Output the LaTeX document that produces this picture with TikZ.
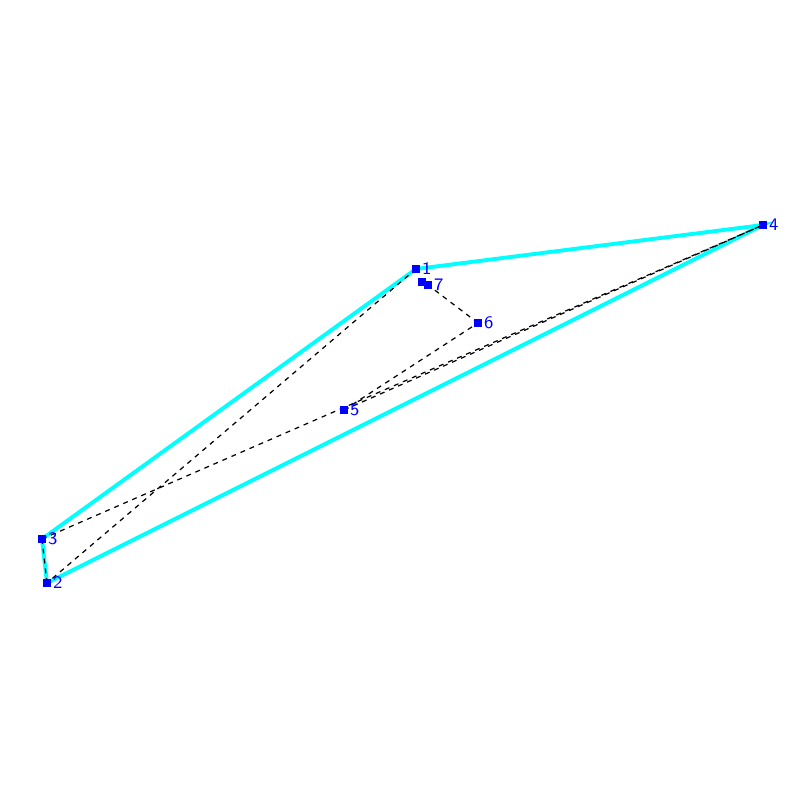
\documentclass[tikz,border=0pt]{standalone}
\usepackage{xcolor}
\usepackage{tikz}

\definecolor{hullcyan}{RGB}{0,255,255}
\definecolor{ptblue}{RGB}{0,0,255}

\tikzset{
  pt/.style={fill=ptblue, inner sep=0pt, minimum size=0.08cm, draw=none},
  ptlabel/.style={text=ptblue, font=\sffamily\fontsize{5}{6}\selectfont, anchor=west, inner sep=0.2pt},
  hull/.style={draw=hullcyan, line width=1.1pt},
  inner/.style={draw=black, line width=0.35pt, dash pattern=on 1.4pt off 1.4pt}
}

\begin{document}
\begin{tikzpicture}
    \useasboundingbox (0,0) rectangle (8,8);
    % Points
    \coordinate (p1) at (4.16,5.31);
    \coordinate (p2) at (0.47,2.17);
    \coordinate (p3) at (0.42,2.61);
    \coordinate (p4) at (7.63,5.75);
    \coordinate (p5) at (3.44,3.90);
    \coordinate (p6) at (4.78,4.77);
    \coordinate (p7) at (4.28,5.15);
    \coordinate (p8) at (4.22,5.18);

    % Hull (cyan)
    \draw[hull] (p1) -- (p4) -- (p2) -- (p3) -- cycle;

    % Dashed edges
    \draw[inner] (p1) -- (p2);
    \draw[inner] (p2) -- (p3);
    \draw[inner] (p3) -- (p4);
    \draw[inner] (p5) -- (p4);
    \draw[inner] (p5) -- (p6);
    \draw[inner] (p6) -- (p7);

    % Markers
    \node[pt] (m8) at (p8) {};
    \foreach \i in {1,...,7} {
        \node[pt] (m\i) at (p\i) {};
        \node[ptlabel] (l\i) at (m\i.east) {\i};
    }
\end{tikzpicture}
\end{document}
